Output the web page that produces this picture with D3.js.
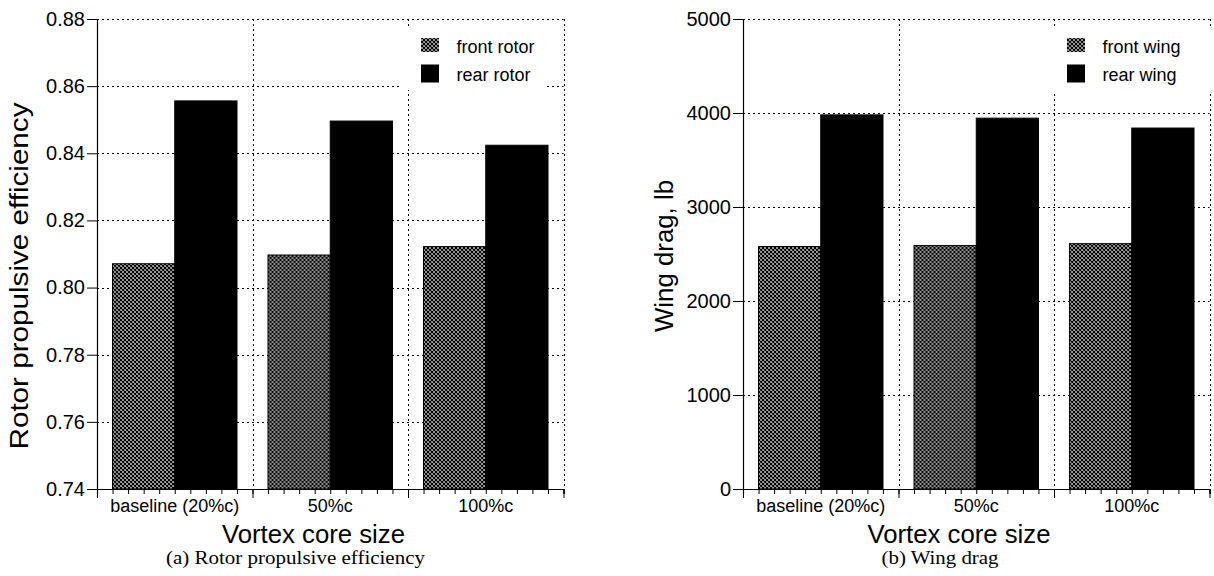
<!DOCTYPE html>
<html>
<head>
<meta charset="utf-8">
<script src="https://cdn.jsdelivr.net/npm/d3@7/dist/d3.min.js"></script>
<style>
  html, body { margin: 0; padding: 0; background: #fff; }
  svg { display: block; }
  text { font-family: "Liberation Sans", Arial, Helvetica, sans-serif; fill: #000; }
  .cap { font-family: "Liberation Serif", "Times New Roman", serif; }
</style>
</head>
<body>
<svg id="chart" width="1214" height="576"></svg>
<script>
// ---------------- data ----------------
const categories = ["baseline (20%c)", "50%c", "100%c"];
const rotorSeries = ["front rotor", "rear rotor"];
const frontRotor = [0.8071, 0.8097, 0.8122];
const rearRotor  = [0.8556, 0.8496, 0.8424];
const rotorTicks = [0.74, 0.76, 0.78, 0.80, 0.82, 0.84, 0.86, 0.88];

const wingSeries = ["front wing", "rear wing"];
const frontWing = [2580, 2590, 2610];
const rearWing  = [3980, 3945, 3840];
const wingTicks = [0, 1000, 2000, 3000, 4000, 5000];

// ---------------- drawing ----------------
const svg = d3.select("#chart");
const defs = svg.append("defs");
const pat = defs.append("pattern")
  .attr("id", "xhatch").attr("patternUnits", "userSpaceOnUse")
  .attr("width", 4).attr("height", 4);
pat.append("rect").attr("width", 4).attr("height", 4).attr("fill", "#fff");
pat.append("path").attr("d", "M0,0L4,4M4,0L0,4M-1,3L1,5M3,-1L5,1M-1,1L1,-1M3,5L5,3")
  .attr("stroke", "#000").attr("stroke-width", 1.3);

function panel(cfg) {
  const g = svg.append("g");
  const top = 19, bot = 489;
  const y = d3.scaleLinear().domain([cfg.ticks[0], cfg.ticks[cfg.ticks.length - 1]]).range([bot, top]);
  const x0 = d3.scaleBand().domain(categories).range([cfg.left, cfg.right]).padding(0);
  const x1 = d3.scaleBand().domain(cfg.series).range([15.5, x0.bandwidth() - 15.5]).padding(0);
  const xl = d3.scaleLinear().domain([0, categories.length]).range([cfg.left, cfg.right]);

  const dash = "2,3";
  // horizontal gridlines
  g.append("g").selectAll("line").data(cfg.ticks.slice(1)).join("line")
    .attr("x1", cfg.left).attr("x2", cfg.right)
    .attr("y1", d => Math.round(y(d)) + 0.5).attr("y2", d => Math.round(y(d)) + 0.5)
    .attr("stroke", "#000").attr("stroke-width", 1).attr("stroke-dasharray", dash);
  // vertical gridlines
  g.append("g").selectAll("line").data(d3.range(1, categories.length + 1)).join("line")
    .attr("x1", d => Math.round(xl(d)) + 0.5).attr("x2", d => Math.round(xl(d)) + 0.5)
    .attr("y1", top).attr("y2", bot)
    .attr("stroke", "#000").attr("stroke-width", 1).attr("stroke-dasharray", dash);

  // legend background
  g.append("rect").attr("x", cfg.legBox[0]).attr("y", cfg.legBox[1])
    .attr("width", cfg.legBox[2]).attr("height", cfg.legBox[3]).attr("fill", "#fff");

  // bars
  const rows = categories.map((c, i) => ({ c, vals: [cfg.front[i], cfg.rear[i]] }));
  g.append("g").selectAll("g").data(rows).join("g")
    .attr("transform", d => `translate(${x0(d.c)},0)`)
    .selectAll("rect").data(d => d.vals.map((v, k) => ({ k, v, s: cfg.series[k] }))).join("rect")
    .attr("x", d => x1(d.s)).attr("width", x1.bandwidth())
    .attr("y", d => y(d.v)).attr("height", d => bot - y(d.v))
    .attr("fill", d => d.k === 0 ? "url(#xhatch)" : "#000")
    .attr("stroke", "#000").attr("stroke-width", 1);

  // y axis
  const ya = g.append("g").attr("transform", `translate(${cfg.left},0)`)
    .call(d3.axisLeft(y).tickValues(cfg.ticks).tickFormat(cfg.fmt).tickSize(10).tickSizeOuter(0).tickPadding(2));
  ya.selectAll("text").style("font-size", "20px");
  ya.select(".domain").attr("stroke-width", 1.2);

  // x axis: minor ticks, major ticks, labels
  const minor = d3.range(0, categories.length * 10 + 1).map(i => i / 10);
  const xa1 = g.append("g").attr("transform", `translate(0,${bot})`)
    .call(d3.axisBottom(xl).tickValues(minor).tickSize(5).tickFormat(""));
  xa1.select(".domain").attr("stroke-width", 1.2);
  g.append("g").attr("transform", `translate(0,${bot})`)
    .call(d3.axisBottom(xl).tickValues(d3.range(0, categories.length + 1)).tickSize(9).tickFormat(""))
    .select(".domain").remove();
  const xa3 = g.append("g").attr("transform", `translate(0,${bot})`)
    .call(d3.axisBottom(x0).tickSize(0).tickPadding(10));
  xa3.select(".domain").remove();
  xa3.selectAll("text").style("font-size", "18px");

  // axis titles
  g.append("text").attr("transform", `translate(${cfg.yLab[0]},${cfg.yLab[1]}) rotate(-90)`)
    .attr("text-anchor", "middle").style("font-size", "25px")
    .attr("textLength", cfg.yLab[2]).attr("lengthAdjust", "spacingAndGlyphs")
    .text(cfg.ylabel);
  g.append("text").attr("x", cfg.xTitleX).attr("y", 543)
    .attr("text-anchor", "middle").style("font-size", "25px")
    .attr("textLength", 183).attr("lengthAdjust", "spacingAndGlyphs")
    .text("Vortex core size");
  g.append("text").attr("class", "cap").attr("x", cfg.cap[0]).attr("y", 564)
    .attr("text-anchor", "middle").style("font-size", "19px")
    .attr("textLength", cfg.cap[1]).attr("lengthAdjust", "spacingAndGlyphs")
    .text(cfg.caption);

  // legend
  const lx = cfg.right - 142.5;
  const lg = g.append("g");
  lg.append("rect").attr("x", lx).attr("y", 38).attr("width", 18).attr("height", 14)
    .attr("fill", "url(#xhatch)");
  lg.append("rect").attr("x", lx).attr("y", 64.5).attr("width", 18).attr("height", 18)
    .attr("fill", "#000");
  lg.selectAll("text").data(cfg.series).join("text")
    .attr("x", cfg.right - 107).attr("y", (d, i) => 53 + i * 27.5)
    .style("font-size", "18px").text(d => d);
}

panel({
  left: 97, right: 563.5, ticks: rotorTicks, fmt: d3.format(".2f"),
  series: rotorSeries, front: frontRotor, rear: rearRotor,
  legBox: [402, 27, 143, 63],
  ylabel: "Rotor propulsive efficiency", yLab: [28, 276, 347],
  xTitleX: 313.5, caption: "(a) Rotor propulsive efficiency", cap: [295.5, 259]
});
panel({
  left: 743, right: 1209.5, ticks: wingTicks, fmt: d3.format("d"),
  series: wingSeries, front: frontWing, rear: rearWing,
  legBox: [1049, 28, 165, 64],
  ylabel: "Wing drag, lb", yLab: [673, 256, 152],
  xTitleX: 959, caption: "(b) Wing drag", cap: [940, 117]
});
</script>
</body>
</html>
